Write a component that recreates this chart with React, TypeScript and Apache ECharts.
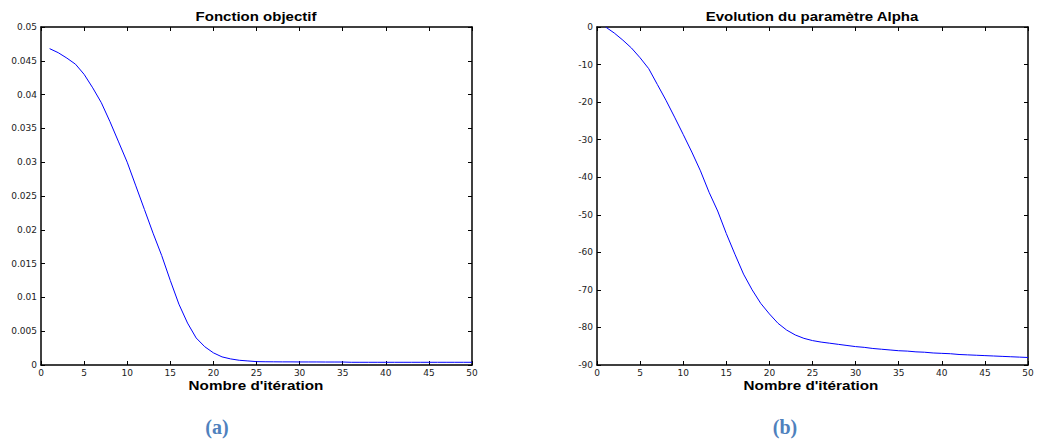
import React, { useEffect, useRef } from "react";
import * as echarts from "echarts";

const iterations: number[] = Array.from({ length: 50 }, (_, i) => i + 1);

const objectiveValues: number[] = [
  0.0468, 0.0462, 0.0454, 0.0445, 0.0430, 0.0410, 0.0388, 0.0360, 0.0330, 0.0300,
  0.0265, 0.0230, 0.0195, 0.0162, 0.0125, 0.0090, 0.0062, 0.0040, 0.0027, 0.0018,
  0.0012, 0.0009, 0.0007, 0.0006, 0.0005, 0.00048, 0.00047, 0.00046, 0.00046, 0.00045,
  0.00045, 0.00045, 0.00044, 0.00044, 0.00044, 0.0004, 0.0004, 0.0004, 0.0004, 0.0004,
  0.0004, 0.0004, 0.0004, 0.0004, 0.0004, 0.0004, 0.0004, 0.0004, 0.0004, 0.0004,
];

const alphaValues: number[] = [
  0, -1.6, -3.5, -5.6, -8.2, -11.1, -15.3, -19.5, -24.0, -28.6,
  -33.3, -38.3, -44.0, -49.0, -55.0, -60.5, -65.8, -70.0, -73.6, -76.4,
  -78.9, -80.7, -82.0, -82.9, -83.5, -83.9, -84.2, -84.5, -84.8, -85.1,
  -85.3, -85.6, -85.8, -86.0, -86.2, -86.3, -86.5, -86.6, -86.8, -86.9,
  -87.0, -87.2, -87.3, -87.4, -87.5, -87.6, -87.7, -87.8, -87.9, -88.0,
];

const titleA = "Fonction objectif";
const titleB = "Evolution du paramètre Alpha";
const xName = "Nombre d'itération";
const captionA = "(a)";
const captionB = "(b)";

const FONT = "Liberation Sans, Arial, sans-serif";
const TICK_FONT = "DejaVu Sans, sans-serif";

function xAxes(gridIndex: number) {
  const common = {
    type: "value",
    gridIndex,
    min: 0,
    max: 50,
    interval: 5,
    axisLine: { show: true, onZero: false, lineStyle: { color: "#000", width: 1.5 } },
    axisTick: { show: true, inside: true, length: 4, lineStyle: { color: "#000" } },
    splitLine: { show: false },
  };
  return [
    {
      ...common,
      position: "bottom",
      axisLabel: { fontFamily: TICK_FONT, fontSize: 9, color: "#222", margin: 3 },
    },
    { ...common, position: "top", axisLabel: { show: false } },
  ];
}

function yAxes(gridIndex: number, min: number, max: number, interval: number, fmt: (v: number) => string) {
  const common = {
    type: "value",
    gridIndex,
    min,
    max,
    interval,
    axisLine: { show: true, onZero: false, lineStyle: { color: "#000", width: 1.5 } },
    axisTick: { show: true, inside: true, length: 4, lineStyle: { color: "#000" } },
    splitLine: { show: false },
  };
  return [
    {
      ...common,
      position: "left",
      axisLabel: { fontFamily: TICK_FONT, fontSize: 9, color: "#222", margin: 4, formatter: fmt },
    },
    { ...common, position: "right", axisLabel: { show: false } },
  ];
}

function stretchedText(text: string, x: number, y: number, size: number, scaleX: number) {
  return {
    type: "text",
    x,
    y,
    scaleX,
    style: { text, fontFamily: FONT, fontWeight: "bold", fontSize: size, fill: "#000", align: "center", verticalAlign: "middle" },
  };
}

export default function App() {
  const ref = useRef<HTMLDivElement>(null);
  useEffect(() => {
    if (!ref.current) return;
    const chart = echarts.init(ref.current, null, { renderer: "svg" });
    const [xa0, xa1] = xAxes(0);
    const [xb0, xb1] = xAxes(1);
    const [ya0, ya1] = yAxes(0, 0, 0.05, 0.005, (v: number) => String(+v.toFixed(3)));
    const [yb0, yb1] = yAxes(1, -90, 0, 10, (v: number) => String(Math.round(v)));
    chart.setOption({
      animation: false,
      backgroundColor: "#fff",
      grid: [
        { left: 41, right: 566, top: 27, bottom: 78, containLabel: false },
        { left: 597, right: 10, top: 27, bottom: 78, containLabel: false },
      ],
      xAxis: [xa0, xa1, xb0, xb1],
      yAxis: [ya0, ya1, yb0, yb1],
      series: [
        {
          type: "line",
          xAxisIndex: 0,
          yAxisIndex: 0,
          data: iterations.map((x, i) => [x, objectiveValues[i]]),
          showSymbol: false,
          lineStyle: { color: "#0000ff", width: 1 },
          itemStyle: { color: "#0000ff" },
        },
        {
          type: "line",
          xAxisIndex: 2,
          yAxisIndex: 2,
          data: iterations.map((x, i) => [x, alphaValues[i]]),
          showSymbol: false,
          lineStyle: { color: "#0000ff", width: 1 },
          itemStyle: { color: "#0000ff" },
        },
      ],
      graphic: [
        stretchedText(titleA, 256, 17, 12, 1.25),
        stretchedText(titleB, 812, 17, 12, 1.25),
        stretchedText(xName, 256, 386, 12, 1.27),
        stretchedText(xName, 811, 386, 12, 1.27),
        {
          type: "text",
          x: 217,
          y: 427,
          style: { text: captionA, fontFamily: "Liberation Serif, Times New Roman, serif", fontWeight: "bold", fontSize: 20, fill: "#4f81bd", align: "center", verticalAlign: "middle" },
        },
        {
          type: "text",
          x: 785,
          y: 427,
          style: { text: captionB, fontFamily: "Liberation Serif, Times New Roman, serif", fontWeight: "bold", fontSize: 20, fill: "#4f81bd", align: "center", verticalAlign: "middle" },
        },
      ],
    });
    return () => chart.dispose();
  }, []);
  return (
    <div
      ref={ref}
      style={{ position: "absolute", left: 0, top: 0, width: 1038, height: 443 }}
    />
  );
}
